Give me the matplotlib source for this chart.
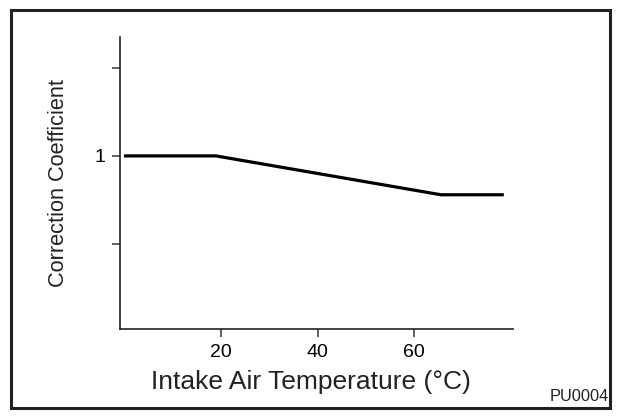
import matplotlib.pyplot as plt
from matplotlib.patches import Rectangle

plt.rcParams["font.family"] = ["Liberation Sans", "DejaVu Sans"]

# intake air temperature (°C) vs correction coefficient
temp = [0, 19, 65.5, 78.5]
coef = [1.0, 1.0, 0.912, 0.912]

xticks = [20, 40, 60]
yticks = [0.8, 1.0, 1.2]
ytick_labels = ["", "1", ""]

fig = plt.figure(figsize=(6.19, 4.17), dpi=100)
ax = fig.add_axes([0.194, 0.211, 0.634, 0.700])

ax.plot(temp, coef, color="black", linewidth=2.3, solid_capstyle="butt")

ax.set_xlim(-0.8, 80.3)
ax.set_ylim(0.608, 1.269)
ax.set_xticks(xticks)
ax.set_yticks(yticks)
ax.set_yticklabels(ytick_labels)
ax.tick_params(labelsize=14, length=6, width=1.2, color="#444444", pad=4.5)

for s in ["top", "right"]:
    ax.spines[s].set_visible(False)
for s in ["left", "bottom"]:
    ax.spines[s].set_linewidth(1.2)
    ax.spines[s].set_color("#222222")

ax.set_xlabel("Intake Air Temperature (°C)", fontsize=19, color="#222222")
ax.xaxis.set_label_coords(0.486, -0.14)
ax.set_ylabel("Correction Coefficient", fontsize=15.7, color="#222222")
ax.yaxis.set_label_coords(-0.13, 0.5)

fig.text(0.935, 0.048, "PU0004", fontsize=11.8, ha="center", va="center", color="#222222")

fig.patches.append(Rectangle((0.018, 0.021), 0.968, 0.956, transform=fig.transFigure,
                             fill=False, edgecolor="#222222", linewidth=2.2))

fig.savefig("out.png", dpi=100)
